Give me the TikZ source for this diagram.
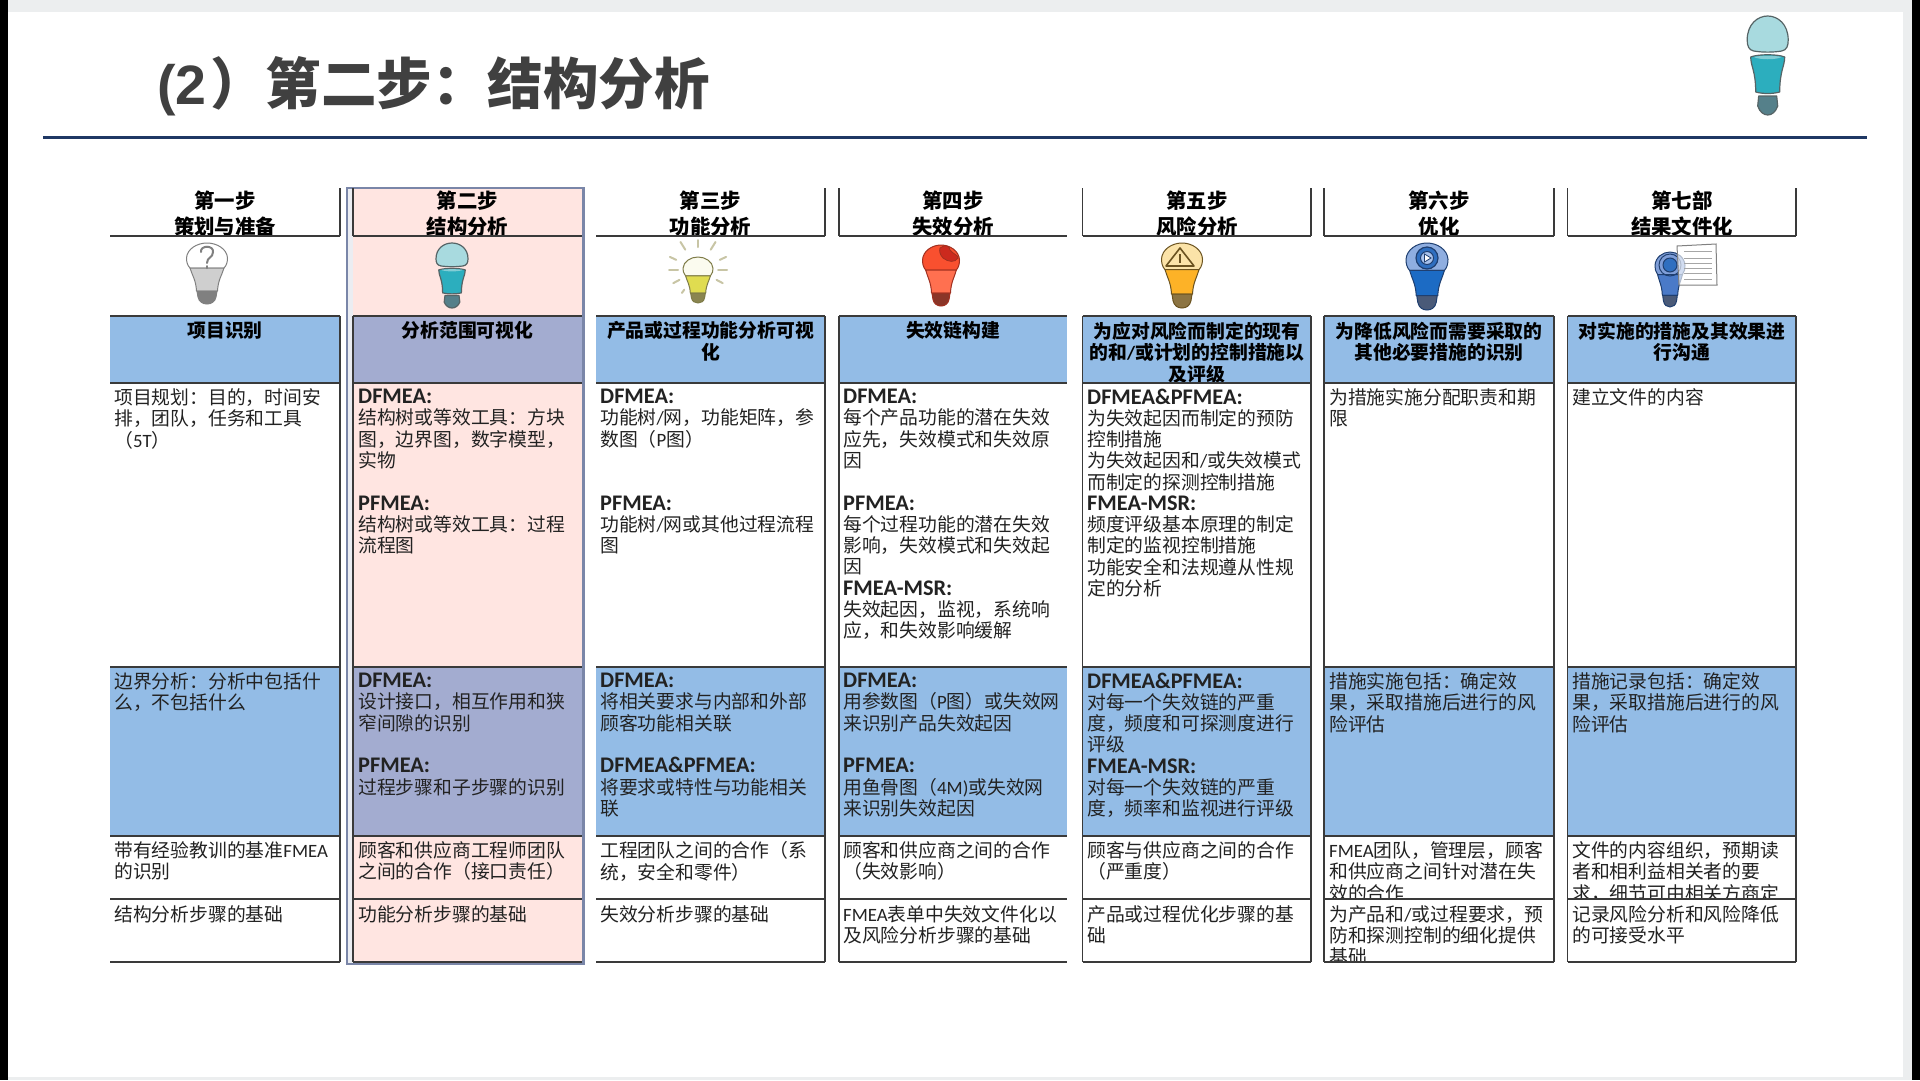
\documentclass[tikz,border=0pt]{standalone}
\usepackage{fontspec}
\usetikzlibrary{calc}
\setmainfont{Noto Sans CJK SC}
\newfontfamily\lat{Carlito}
\newfontfamily\ars{Liberation Sans}
\definecolor{ink}{HTML}{222222}
\definecolor{rule}{HTML}{3A3A3A}
\definecolor{blueband}{HTML}{93BCE6}
\definecolor{pinkband}{HTML}{FFE5E1}
\definecolor{mixband}{HTML}{A3ACD0}
\definecolor{frameblue}{HTML}{7A86A8}
\definecolor{navy}{HTML}{1F3864}
\definecolor{shell}{HTML}{ECEEEF}
\definecolor{tealglass}{HTML}{A8DADF}
\definecolor{tealbody}{HTML}{2CAEBE}
\definecolor{tealbase}{HTML}{55808A}
\definecolor{tealline}{HTML}{566466}
\definecolor{gA}{HTML}{808080}
\definecolor{gB}{HTML}{CFCFCF}
\definecolor{yA}{HTML}{FBFBEF}
\definecolor{yB}{HTML}{E0DC50}
\definecolor{yC}{HTML}{8A8550}
\definecolor{yD}{HTML}{7F7C48}
\definecolor{yRay}{HTML}{C8C5A5}
\definecolor{rA}{HTML}{F9502F}
\definecolor{rB}{HTML}{FF7050}
\definecolor{rC}{HTML}{8A3528}
\definecolor{rD}{HTML}{A03020}
\definecolor{rE}{HTML}{CC2A1E}
\definecolor{oA}{HTML}{FBE3A8}
\definecolor{oB}{HTML}{FDB227}
\definecolor{oC}{HTML}{8C7442}
\definecolor{oD}{HTML}{6B5320}
\definecolor{bA}{HTML}{8FAEE0}
\definecolor{bB}{HTML}{1C6BC4}
\definecolor{bC}{HTML}{4A5A78}
\definecolor{bD}{HTML}{1F3F70}
\definecolor{bE}{HTML}{2F6FC0}
\definecolor{bF}{HTML}{A8C2EC}
\definecolor{dA}{HTML}{7F9ED8}
\definecolor{dB}{HTML}{4A7AC8}
\newcommand\E[1]{{\lat #1}}
\newcommand\hd[1]{{\lat\bfseries\fontsize{22.3}{21.27}\selectfont #1}}
\newcommand\BL{\mbox{}}
\tikzset{
  x=1pt,y=-1pt,
  bodytext/.style={anchor=north west,align=left,inner sep=0pt,text=ink,font=\fontsize{18.8}{21.27}\selectfont},
  bandtext/.style={anchor=north,align=center,inner sep=0pt,text=black,font=\bfseries\fontsize{18.8}{21.5}\selectfont},
  headtext/.style={anchor=north,align=center,inner sep=0pt,text=black,font=\bfseries\fontsize{20.4}{26}\selectfont},
  tline/.style={draw=rule,line width=1.5pt},
  bulbline/.style={line width=1pt,line join=round},
}
% text cells
\newcommand\bodycell[4]{\node[bodytext] (#1) at (#2,#3) {\rule{0pt}{15pt}#4};}
\newcommand\bandcell[3]{\node[bandtext] (#1) at (#2,321.5) {\rule{0pt}{15pt}#3};}
\newcommand\headcell[3]{\node[headtext] (#1) at (#2,190.5) {\rule{0pt}{16pt}#3};}
% joined bulb: 41 x 61 units
\newcommand\bulb[8]{%
 \begin{scope}[shift={(#1,#2)},xscale=#3/41,yscale=#4/61,bulbline,draw=#8]
  \path[fill=#5,draw=#8] (-17,25) .. controls (-20,22) and (-20.5,18) .. (-20.5,15) .. controls (-20,6) and (-10,0) .. (0,0) .. controls (10,0) and (20,6) .. (20.5,15) .. controls (20.5,18) and (20,22) .. (17,25) -- cycle;
  \path[fill=#6,draw=#8] (-17,25) -- (17,25) .. controls (15,32) and (11,37) .. (10.5,48) -- (-10.5,48) .. controls (-11,37) and (-15,32) .. (-17,25) -- cycle;
  \path[fill=#7,draw=#8] (-10,48) -- (10,48) -- (9,54) .. controls (8,59) and (4,61) .. (0,61) .. controls (-4,61) and (-8,59) .. (-9,54) -- cycle;
 \end{scope}}
% split teal bulb: 41 x 99 units
\newcommand\tealbulb[4]{%
 \begin{scope}[shift={(#1,#2)},xscale=#3/41,yscale=#4/99,line width=1.2pt,line join=round]
  \path[fill=tealglass,draw=tealline] (-20.5,24) .. controls (-20.5,8) and (-10,0) .. (0,0) .. controls (10,0) and (20.5,8) .. (20.5,24) .. controls (20.5,30) and (19,34) .. (14,35) .. controls (5,36.5) and (-5,36.5) .. (-14,35) .. controls (-19,34) and (-20.5,30) .. (-20.5,24) -- cycle;
  \path[fill=tealbody,draw=tealline] (-17,41) .. controls (-10,38) and (10,38) .. (17,41) .. controls (17,50) and (12,55) .. (12,76) .. controls (5,78) and (-5,78) .. (-12,76) .. controls (-12,55) and (-17,50) .. (-17,41) -- cycle;
  \path[fill=tealglass!70!tealbody] (-14,41) .. controls (-8,39.5) and (8,39.5) .. (14,41) .. controls (8,44) and (-8,44) .. (-14,41) -- cycle;
  \path[fill=tealbase,draw=tealline] (-9,80) -- (9,80) -- (10,90) .. controls (8,96) and (4,99) .. (0,99) .. controls (-4,99) and (-8,96) .. (-10,90) -- cycle;
 \end{scope}}
\begin{document}
\begin{tikzpicture}
\useasboundingbox (0,0) rectangle (1920,1080);
% screenshot shell
\fill[shell] (0,0) rectangle (1920,1080);
\fill[white] (8,12) rectangle (1903,1077);
\fill[black] (0,0) rectangle (8,1080);
\fill[black] (1912,0) rectangle (1920,1080);
% title
\node[anchor=base west,inner sep=0pt,text=black!75,font=\bfseries\fontsize{55.5}{60}\selectfont] (title) at (157,104) {{\ars\bfseries(2}\hspace{3.5pt}）第二步：结构分析};
\coordinate (tl) at (43,137);
\coordinate (tr) at (1867,137);
\draw[navy,line width=3pt] (tl) -- (tr);
% column 2 highlight
\path[fill=frameblue!15,draw=frameblue,line width=1.4pt] (347,188) rectangle (584,964);
\fill[pinkband] (353,189) rectangle (583,963);
% bands
\foreach \a/\b in {110/340,596/825,839/1067,1082.5/1311,1324/1554,1567.5/1796}{
  \fill[blueband] (\a,316) rectangle (\b,383);
  \fill[blueband] (\a,667) rectangle (\b,836);
}
\fill[mixband] (353,316) rectangle (583,383);
\fill[mixband] (353,667) rectangle (583,836);
% headers
\headcell{h1}{225}{第一步\\策划与准备}
\headcell{h2}{467.5}{第二步\\结构分析}
\headcell{h3}{710.5}{第三步\\功能分析}
\headcell{h4}{953}{第四步\\失效分析}
\headcell{h5}{1197}{第五步\\风险分析}
\headcell{h6}{1439}{第六步\\优化}
\headcell{h7}{1682}{第七部\\结果文件化}
% band titles
\bandcell{t1}{225}{项目识别}
\bandcell{t2}{467.5}{分析范围可视化}
\bandcell{t3}{710.5}{产品或过程功能分析可视\\化}
\bandcell{t4}{953}{失效链构建}
\begin{scope}
\clip (1082,316) rectangle (1311,383);
\bandcell{t5}{1197}{为应对风险而制定的现有\\的和\E{/}或计划的控制措施以\\及评级}
\end{scope}
\bandcell{t6}{1439}{为降低风险而需要采取的\\其他必要措施的识别}
\bandcell{t7}{1682}{对实施的措施及其效果进\\行沟通}
% row A
\bodycell{a1}{114}{388.5}{项目规划：目的，时间安\\排，团队，任务和工具\\（\E{5T}）}
\bodycell{a2}{358}{388.5}{\hd{DFMEA:}\\结构树或等效工具：方块\\图，边界图，数字模型，\\实物\\\BL\\\hd{PFMEA:}\\结构树或等效工具：过程\\流程图}
\bodycell{a3}{600}{388.5}{\hd{DFMEA:}\\功能树\E{/}网，功能矩阵，参\\数图（\E{P}图）\\\BL\\\BL\\\hd{PFMEA:}\\功能树\E{/}网或其他过程流程\\图}
\bodycell{a4}{843}{388.5}{\hd{DFMEA:}\\每个产品功能的潜在失效\\应先，失效模式和失效原\\因\\\BL\\\hd{PFMEA:}\\每个过程功能的潜在失效\\影响，失效模式和失效起\\因\\\hd{FMEA-MSR:}\\失效起因，监视，系统响\\应，和失效影响缓解}
\bodycell{a5}{1087}{388.5}{\hd{DFMEA\&PFMEA:}\\为失效起因而制定的预防\\控制措施\\为失效起因和\E{/}或失效模式\\而制定的探测控制措施\\\hd{FMEA-MSR:}\\频度评级基本原理的制定\\制定的监视控制措施\\功能安全和法规遵从性规\\定的分析}
\bodycell{a6}{1329}{388.5}{为措施实施分配职责和期\\限}
\bodycell{a7}{1572}{388.5}{建立文件的内容}
% row B
\bodycell{b1}{114}{672.5}{边界分析：分析中包括什\\么，不包括什么}
\bodycell{b2}{358}{672.5}{\hd{DFMEA:}\\设计接口，相互作用和狭\\窄间隙的识别\\\BL\\\hd{PFMEA:}\\过程步骤和子步骤的识别}
\bodycell{b3}{600}{672.5}{\hd{DFMEA:}\\将相关要求与内部和外部\\顾客功能相关联\\\BL\\\hd{DFMEA\&PFMEA:}\\将要求或特性与功能相关\\联}
\bodycell{b4}{843}{672.5}{\hd{DFMEA:}\\用参数图（\E{P}图）或失效网\\来识别产品失效起因\\\BL\\\hd{PFMEA:}\\用鱼骨图（\E{4M)}或失效网\\来识别失效起因}
\bodycell{b5}{1087}{672.5}{\hd{DFMEA\&PFMEA:}\\对每一个失效链的严重\\度，频度和可探测度进行\\评级\\\hd{FMEA-MSR:}\\对每一个失效链的严重\\度，频率和监视进行评级}
\bodycell{b6}{1329}{672.5}{措施实施包括：确定效\\果，采取措施后进行的风\\险评估}
\bodycell{b7}{1572}{672.5}{措施记录包括：确定效\\果，采取措施后进行的风\\险评估}
% row C
\bodycell{c1}{114}{841.5}{带有经验教训的基准\E{FMEA}\\的识别}
\bodycell{c2}{358}{841.5}{顾客和供应商工程师团队\\之间的合作（接口责任）}
\bodycell{c3}{600}{841.5}{工程团队之间的合作（系\\统，安全和零件）}
\bodycell{c4}{843}{841.5}{顾客和供应商之间的合作\\（失效影响）}
\bodycell{c5}{1087}{841.5}{顾客与供应商之间的合作\\（严重度）}
\begin{scope}
\clip (1324,836) rectangle (1796,899);
\bodycell{c6}{1329}{841.5}{\E{FMEA}团队，管理层，顾客\\和供应商之间针对潜在失\\效的合作}
\bodycell{c7}{1572}{841.5}{文件的内容组织，预期读\\者和相利益相关者的要\\求，细节可由相关方商定}
\end{scope}
% row D
\bodycell{d1}{114}{905}{结构分析步骤的基础}
\bodycell{d2}{358}{905}{功能分析步骤的基础}
\bodycell{d3}{600}{905}{失效分析步骤的基础}
\bodycell{d4}{843}{905}{\E{FMEA}表单中失效文件化以\\及风险分析步骤的基础}
\bodycell{d5}{1087}{905}{产品或过程优化步骤的基\\础}
\begin{scope}
\clip (1324,899) rectangle (1554,962);
\bodycell{d6}{1329}{905}{为产品和\E{/}或过程要求，预\\防和探测控制的细化提供\\基础}
\end{scope}
\bodycell{d7}{1572}{905}{记录风险分析和风险降低\\的可接受水平}
% horizontals
\foreach \a/\b in {110/340,353/583,596/825,839/1067,1082.5/1311,1324/1554,1567.5/1796}{
  \foreach \y in {236,316,383,667,836,899,962}{
    \draw[tline] (\a,\y) -- (\b,\y);
  }
}
% verticals
\foreach \x in {340,353,825,839,1082.5,1311,1324,1554,1567.5,1796}{
  \draw[tline,line width=1.2pt] (\x,188) -- (\x,236);
  \draw[tline,line width=1.2pt] (\x,316) -- (\x,962);
}
\draw[frameblue,line width=1.4pt] (583,188) -- (583,964);
% bulbs
\tealbulb{1767.7}{16}{41}{99}
\tealbulb{452}{243}{32}{65}
% step 1: question mark
\bulb{207}{243}{41}{61}{white}{gB}{gA}{gA}
\draw[gA,line width=2pt,line cap=round] (201,252) .. controls (200,245) and (214,245) .. (213,252) .. controls (213,258) and (207,257) .. (207,263);
\draw[gA,line width=2pt,line cap=round] (207,266) -- (207,268);
% step 3: shining bulb
\bulb{698}{257}{30}{46}{yA}{yB}{yC}{yD}
\foreach \ang/\ra/\rb in {-90/23/30,-58/24/33,-25/24/31,0/20/29,28/21/28,-122/24/33,-155/24/31,180/20/29,152/21/28,125/24/28}{
  \draw[yRay,line width=2pt,line cap=round] ($(698,270)+(\ang:\ra)$) -- ($(698,270)+(\ang:\rb)$);
}
% step 4: red bulb with dent
\bulb{941}{245}{37}{61}{rA}{rB}{rC}{rD}
\path[fill=rE,draw=rD,line width=.8pt] (940,248) .. controls (945,244) and (950,246) .. (950,250) .. controls (953,254) and (958,255) .. (958,258) .. controls (955,263) and (948,262) .. (943,258) .. controls (940,255) and (939,251) .. (940,248) -- cycle;
% step 5: warning
\bulb{1182}{243}{41}{65}{oA}{oB}{oC}{oD}
\draw[oD,line width=1.6pt,line join=round] (1180,248) -- (1166,266) -- (1194,266) -- cycle;
\draw[oD,line width=2pt] (1180,254) -- (1180,263);
% step 6: play
\bulb{1427}{243}{42}{67}{bA}{bB}{bC}{bD}
\path[fill=bE,draw=bD,line width=1.2pt] (1427,258) circle (11);
\path[fill=bF,draw=bD,line width=1pt] (1427,258) circle (6.5);
\path[fill=white,draw=bD,line width=.8pt] (1424.5,254) -- (1431,258) -- (1424.5,262) -- cycle;
% step 7: document
\bulb{1670}{252}{30}{55}{dA}{dB}{bC}{bD}
\path[draw=bD,line width=1pt] (1670,265) circle (11);
\path[fill=bE,draw=bD,line width=1pt] (1670,265) circle (7);
\path[fill=white,draw=black!50,line width=1pt,fill opacity=.65] (1677,246) -- (1716,244) -- (1717,285) -- (1679,285) -- cycle;
\foreach \y in {251,258,263,268,273,279}{
  \draw[black!35,line width=1pt] (1684,\y) -- (1712,\y);
}
\end{tikzpicture}
\end{document}
